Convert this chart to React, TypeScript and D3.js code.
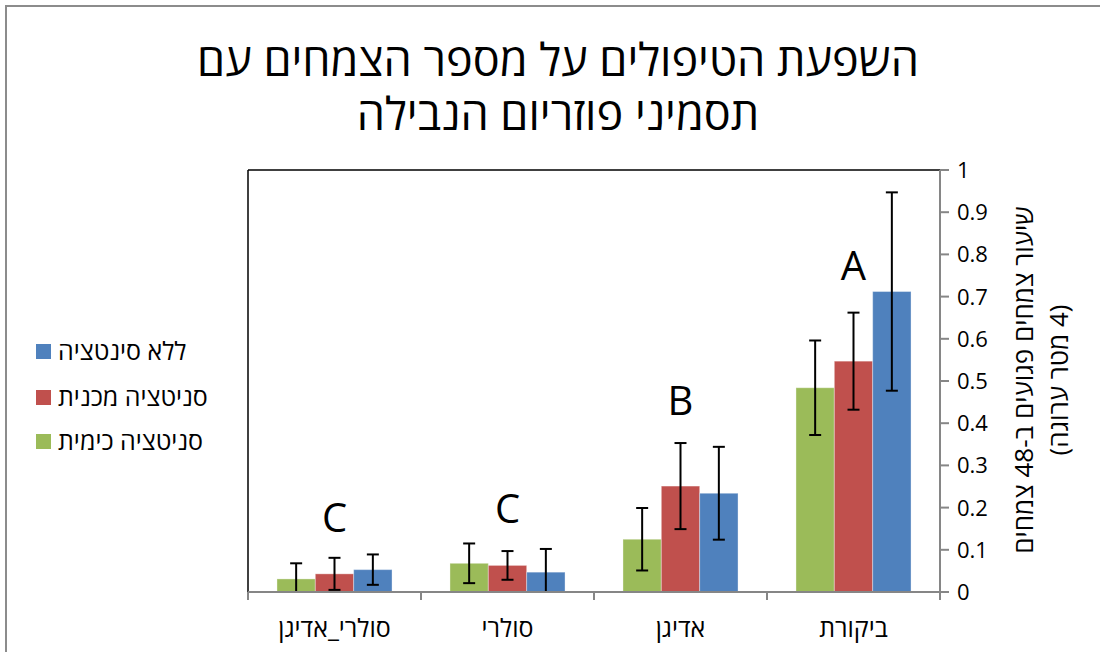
import React from 'react';
import * as d3 from 'd3';

// קטגוריות (משמאל לימין כפי שבתרשים)
const categories = ['סולרי_אדיגן', 'סולרי', 'אדיגן', 'ביקורת'];
const seriesNames = ['סניטציה כימית', 'סניטציה מכנית', 'ללא סינטציה'];
const seriesColors = ['#9bbb59', '#c0504d', '#4f81bd'];

// ערכים לכל סדרה לפי הסדר של categories
const chemical = [0.031, 0.068, 0.125, 0.484];
const mechanical = [0.043, 0.063, 0.251, 0.547];
const noSanitation = [0.053, 0.047, 0.234, 0.712];

// שגיאות (±)
const chemicalErr = [0.037, 0.047, 0.074, 0.112];
const mechanicalErr = [0.038, 0.034, 0.102, 0.115];
const noSanitationErr = [0.036, 0.055, 0.11, 0.235];

// אותיות מובהקות ומיקומן האנכי בערכי הציר
const letters = ['C', 'C', 'B', 'A'];
const letterLevels = [0.177, 0.198, 0.455, 0.775];

const yTicks = [0, 0.1, 0.2, 0.3, 0.4, 0.5, 0.6, 0.7, 0.8, 0.9, 1];

const titleLines = ['השפעת הטיפולים על מספר הצמחים עם', 'תסמיני פוזריום הנבילה'];
const yLabelLines = ['שיעור צמחים פגועים ב-48 צמחים', '(4 מטר ערוגה)'];

const W = 1100;
const H = 652;
const font = "'Open Sans', 'DejaVu Sans', 'Liberation Sans', sans-serif";

const App = () => {
    const plot = { left: 248, right: 940, top: 170, bottom: 592 };

    const values = [chemical, mechanical, noSanitation];
    const errors = [chemicalErr, mechanicalErr, noSanitationErr];

    const x0 = d3
        .scaleBand()
        .domain(categories)
        .range([plot.left, plot.right])
        .paddingInner(0.335)
        .paddingOuter(0.1675);

    const x1 = d3
        .scaleBand()
        .domain(seriesNames)
        .range([0, x0.bandwidth()]);

    const y = d3.scaleLinear().domain([0, 1]).range([plot.bottom, plot.top]);

    // גבולות הקטגוריות לסימוני הציר התחתון
    const step = x0.step();
    const boundaries = d3.range(categories.length + 1).map((i) => plot.left + i * step);

    const legendY = [351, 397, 441];

    return (
        <svg
            width={W}
            height={H}
            style={{ position: 'absolute', left: 0, top: 0, background: '#fff' }}
            fontFamily={font}
        >
            <defs>
                <clipPath id="plotClip">
                    <rect x={plot.left} y={plot.top - 5} width={plot.right - plot.left} height={plot.bottom - plot.top + 5} />
                </clipPath>
            </defs>

            {/* מסגרת חיצונית */}
            <rect x={6} y={6} width={W + 20} height={H + 20} fill="none" stroke="#8c8c8c" strokeWidth={2} />

            {/* כותרת - טקסט אחד בשתי שורות */}
            <text x={558} y={76} textAnchor="middle" fontSize={45} direction="rtl" fill="#000">
                {titleLines.map((t, i) => (
                    <tspan key={i} x={558} dy={i === 0 ? 0 : 54}>
                        {t}
                    </tspan>
                ))}
            </text>

            {/* מסגרת אזור השרטוט */}
            <line x1={plot.left} x2={plot.right} y1={plot.top} y2={plot.top} stroke="#000" strokeWidth={1.5} />
            <line x1={plot.left} x2={plot.left} y1={plot.top} y2={plot.bottom} stroke="#000" strokeWidth={1.5} />

            {/* עמודות */}
            <g>
                {categories.map((c, ci) => (
                    <g key={c} transform={`translate(${x0(c)},0)`}>
                        {seriesNames.map((s, si) => (
                            <rect
                                key={s}
                                x={x1(s)}
                                y={y(values[si][ci])}
                                width={x1.bandwidth()}
                                height={y(0) - y(values[si][ci])}
                                fill={seriesColors[si]}
                                stroke="#ffffff"
                                strokeOpacity={0.35}
                                strokeWidth={1}
                            />
                        ))}
                    </g>
                ))}
            </g>

            {/* קווי שגיאה */}
            <g clipPath="url(#plotClip)">
                {categories.map((c, ci) =>
                    seriesNames.map((s, si) => {
                        const cx = (x0(c) as number) + (x1(s) as number) + x1.bandwidth() / 2;
                        const v = values[si][ci];
                        const e = errors[si][ci];
                        const yt = y(v + e);
                        const yb = y(v - e);
                        return (
                            <g key={c + s} stroke="#000" strokeWidth={2}>
                                <line x1={cx} x2={cx} y1={yt} y2={yb} />
                                <line x1={cx - 6} x2={cx + 6} y1={yt} y2={yt} />
                                <line x1={cx - 6} x2={cx + 6} y1={yb} y2={yb} />
                            </g>
                        );
                    })
                )}
            </g>

            {/* ציר X */}
            <line x1={plot.left} x2={plot.right} y1={plot.bottom} y2={plot.bottom} stroke="#868686" strokeWidth={2} />
            {boundaries.map((bx, i) => (
                <line key={i} x1={bx} x2={bx} y1={plot.bottom} y2={plot.bottom + 8} stroke="#868686" strokeWidth={2} />
            ))}
            {categories.map((c) => (
                <text
                    key={c}
                    x={(x0(c) as number) + x0.bandwidth() / 2}
                    y={637}
                    textAnchor="middle"
                    fontSize={25}
                    direction="rtl"
                    fill="#000"
                >
                    {c}
                </text>
            ))}

            {/* ציר Y מימין */}
            <line x1={plot.right} x2={plot.right} y1={plot.top} y2={plot.bottom + 8} stroke="#868686" strokeWidth={2} />
            {yTicks.map((t) => (
                <g key={t}>
                    <line x1={plot.right} x2={plot.right + 9} y1={y(t)} y2={y(t)} stroke="#868686" strokeWidth={2} />
                    <text x={957} y={y(t) + 8} fontSize={22} fill="#000">
                        {d3.format('~g')(t)}
                    </text>
                </g>
            ))}

            {/* כותרת ציר Y */}
            <g transform="translate(1033,380) rotate(-90)">
                {yLabelLines.map((t, i) => (
                    <text key={i} x={0} y={i * 35} textAnchor="middle" fontSize={26} direction="rtl" fill="#000">
                        {t}
                    </text>
                ))}
            </g>

            {/* אותיות מובהקות */}
            {categories.map((c, ci) => (
                <text
                    key={c}
                    x={(x0(c) as number) + x0.bandwidth() / 2}
                    y={y(letterLevels[ci]) + 15}
                    textAnchor="middle"
                    fontSize={40}
                    fill="#000"
                >
                    {letters[ci]}
                </text>
            ))}

            {/* מקרא */}
            {[2, 1, 0].map((si, i) => (
                <g key={si} transform={`translate(36,${legendY[i]})`}>
                    <rect x={0} y={-7} width={15} height={15} fill={seriesColors[si]} />
                    <text x={22} y={9} fontSize={25} direction="rtl" textAnchor="end" fill="#000">
                        {seriesNames[si]}
                    </text>
                </g>
            ))}
        </svg>
    );
};

export default App;
